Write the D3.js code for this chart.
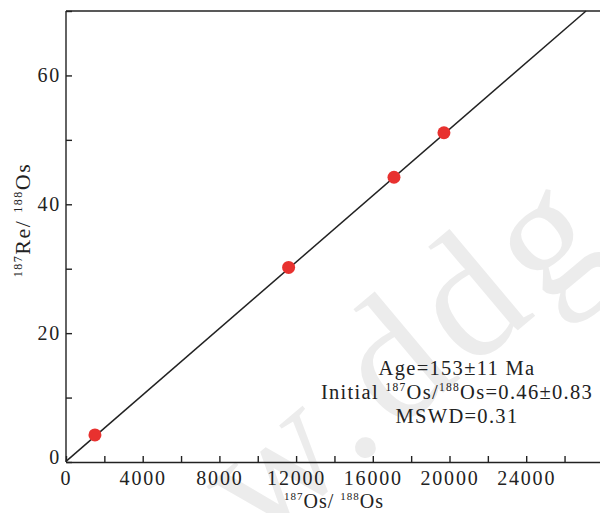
<!DOCTYPE html>
<html>
<head>
<meta charset="utf-8">
<script src="https://cdn.jsdelivr.net/npm/d3@7"></script>
<style>
  body { margin: 0; background: #fff; }
  svg text { font-family: "Liberation Serif", "Times New Roman", serif; fill: #222; }
  .axis path, .axis line { stroke: #222; stroke-width: 1.4px; }
  .axis text { font-size: 20px; letter-spacing: 1.8px; }
</style>
</head>
<body>
<div id="chart"></div>
<script>
// measured sample ratios
const osRatio = [1510, 11610, 17105, 19710];   // 187Os/188Os
const reRatio = [4.2, 30.2, 44.2, 51.1];        // 187Re/188Os

// isochron fit
const fitX = [0, 27120];
const fitY = [0.1, 70];

const xTicks = [0, 2000, 4000, 6000, 8000, 10000, 12000, 14000, 16000, 18000, 20000, 22000, 24000, 26000, 28000];
const yTicks = [0, 10, 20, 30, 40, 50, 60, 70];

const notes = ['Age=153±11 Ma', 'Initial |187|Os/|188|Os=0.46±0.83', 'MSWD=0.31'];

const width = 600, height = 513;
const margin = { top: 11, left: 66, bottom: 51 };

const svg = d3.select('#chart')
  .append('svg')
    .attr('width', width)
    .attr('height', height);

const xScale = d3.scaleLinear()
  .domain([0, 28000])
  .range([margin.left, margin.left + 7 * 76.7]);
const yScale = d3.scaleLinear()
  .domain([0, 70])
  .range([height - margin.bottom, margin.top]);

// faint watermark
svg.append('text')
  .attr('transform', 'translate(258,548) rotate(-40)')
  .style('font-size', '175px')
  .style('fill', '#ececec')
  .style('letter-spacing', '10px')
  .text('w.ddg');

// frame top line
svg.append('line')
  .attr('x1', margin.left).attr('x2', width)
  .attr('y1', margin.top).attr('y2', margin.top)
  .attr('stroke', '#222').attr('stroke-width', 1.4);

const xAxis = d3.axisBottom(xScale)
  .tickValues(xTicks)
  .tickSize(-6)
  .tickSizeOuter(0)
  .tickPadding(9)
  .tickFormat((d) => d % 4000 === 0 && d <= 24000 ? d : '');

svg.append('g')
  .attr('class', 'axis')
  .attr('transform', 'translate(0,' + yScale(0) + ')')
  .call(xAxis);

const yAxis = d3.axisLeft(yScale)
  .tickValues(yTicks)
  .tickSize(-6)
  .tickSizeOuter(0)
  .tickPadding(5)
  .tickFormat((d) => d % 20 === 0 ? d : '');

const gy = svg.append('g')
  .attr('class', 'axis')
  .attr('transform', 'translate(' + margin.left + ',0)')
  .call(yAxis);
gy.selectAll('.tick text').filter((d) => d === 0).attr('dy', '0.05em');
gy.select('.domain').attr('d', 'M0,' + yScale(0) + 'V' + margin.top);

// isochron line
svg.append('line')
  .attr('x1', xScale(fitX[0])).attr('y1', yScale(fitY[0]))
  .attr('x2', xScale(fitX[1])).attr('y2', yScale(fitY[1]))
  .attr('stroke', '#222').attr('stroke-width', 1.5);

// samples
svg.selectAll('circle')
  .data(osRatio)
  .enter().append('circle')
    .attr('cx', (d) => xScale(d))
    .attr('cy', (d, i) => yScale(reRatio[i]))
    .attr('r', 6.5)
    .attr('fill', '#e8312f');

// text with superscripts: parts between | are raised
function richText (sel, str, size, supSize) {
  str.split('|').forEach((part, i) => {
    const sup = i % 2 === 1;
    sel.append('tspan')
      .attr('dy', sup ? -size * 0.38 : (i > 0 ? size * 0.38 : 0))
      .style('font-size', (sup ? supSize : size) + 'px')
      .text(part);
  });
}

notes.forEach((n, i) => {
  const t = svg.append('text')
    .attr('x', 457)
    .attr('y', 375 + i * 24)
    .attr('text-anchor', 'middle')
    .style('letter-spacing', '1.3px');
  richText(t, n, 20.5, 11.5);
});

// axis titles
const xt = svg.append('text')
  .attr('x', 334)
  .attr('y', 508)
  .attr('text-anchor', 'middle')
  .style('letter-spacing', '1px');
richText(xt, '|187|Os/ |188|Os', 20, 11);

const yt = svg.append('text')
  .attr('transform', 'translate(30,220) rotate(-90)')
  .attr('text-anchor', 'middle')
  .style('letter-spacing', '1.5px');
richText(yt, '|187|Re/ |188|Os', 22, 12);
</script>
</body>
</html>
